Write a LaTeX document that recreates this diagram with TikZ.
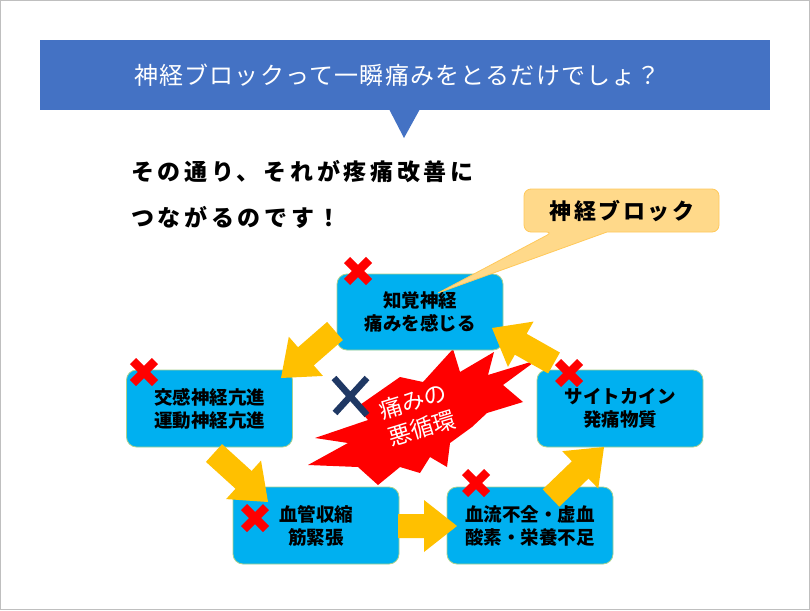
\documentclass[tikz,border=0pt]{standalone}
\usepackage{fontspec}
\setmainfont{Noto Sans CJK JP}
\usetikzlibrary{calc}
\definecolor{bannerblue}{HTML}{4472C4}
\definecolor{boxcyan}{HTML}{00B0F0}
\definecolor{boxedge}{HTML}{A9D18E}
\definecolor{arrowyel}{HTML}{FFC000}
\definecolor{crossred}{HTML}{FF0000}
\definecolor{crossnavy}{HTML}{1F3864}
\definecolor{calloutfill}{HTML}{FFD98A}
\definecolor{calloutedge}{HTML}{FFC95A}
\definecolor{frame}{HTML}{BFBFBF}
\newcommand\blockarrow[2]{%
  \coordinate (#1h) at ($(#2)!33pt!(#1)$);
  \fill[arrowyel] ($(#1)!12pt!90:(#2)$) -- ($(#1h)!12pt!90:(#2)$) -- ($(#1h)!26pt!90:(#2)$) -- (#2)
    -- ($(#1h)!26pt!-90:(#2)$) -- ($(#1h)!12pt!-90:(#2)$) -- ($(#1)!12pt!-90:(#2)$) -- cycle;}
\begin{document}
\begin{tikzpicture}[x=1pt,y=-1pt,
  cbox/.style={fill=boxcyan, draw=boxedge, line width=0.8pt, rounded corners=10pt,
    minimum width=166pt, minimum height=77pt, align=center, inner sep=0pt,
    font=\fontsize{18.5}{23}\selectfont\bfseries},
  maintext/.style={anchor=west, inner sep=0pt,
    font=\fontsize{23}{23}\selectfont\bfseries\addfontfeature{LetterSpace=16}},
  bursttext/.style={rotate=17, text=white, inner sep=0pt, font=\fontsize{23}{23}\selectfont},
  redcross/.pic={\draw[crossred, line width=8.5pt] (-11,-11) -- (11,11) (-11,11) -- (11,-11);}]
\useasboundingbox (0,0) rectangle (810,610);
\fill[white] (0,0) rectangle (810,610);
\draw[frame, line width=1pt] (0.5,0.5) rectangle (809.5,609.5);
% banner
\node[fill=bannerblue, minimum width=730pt, minimum height=70pt, inner sep=0pt] (banner) at (405,75) {};
\fill[bannerblue] (389,109) -- (420,109) -- (404,138) -- cycle;
\node[anchor=west, text=white, inner sep=0pt,
  font=\fontsize{24}{24}\selectfont\addfontfeature{LetterSpace=5}] (title) at (134,75)
  {神経ブロックって一瞬痛みをとるだけでしょ？};
% main text
\node[maintext] (line1) at (131,172) {その通り、それが疼痛改善に};
\node[maintext] (line2) at (131,217) {つながるのです！};
% burst
\fill[crossred] (453,349) -- (460,372) -- (494,352) -- (488,375) -- (537,360) -- (503,385)
  -- (523,402) -- (487,413) -- (472,427) -- (450,443) -- (447,467) -- (430,457) -- (420,473)
  -- (400,467) -- (378,485) -- (358,467) -- (308,465) -- (348,443) -- (315,438) -- (368,420)
  -- (357,407) -- (400,377) -- (423,382) -- cycle;
% boxes
\node[cbox, minimum height=76pt] (chikaku) at (420,312) {知覚神経\\痛みを感じる};
\node[cbox] (koukan) at (209.5,408.5) {交感神経亢進\\運動神経亢進};
\node[cbox] (cyto) at (620,408.5) {サイトカイン\\発痛物質};
\node[cbox] (kekkan) at (316,525.5) {血管収縮\\筋緊張};
\node[cbox] (ketsuryu) at (530,525.5) {血流不全・虚血\\酸素・栄養不足};
% arrows
\coordinate (a1s) at (335,331); \coordinate (a1e) at (281,378);
\coordinate (a2s) at (214,453); \coordinate (a2e) at (268,502);
\coordinate (a3s) at (398,526); \coordinate (a3e) at (457,526);
\coordinate (a4s) at (551,498); \coordinate (a4e) at (604,447);
\coordinate (a5s) at (554,363); \coordinate (a5e) at (492,328);
\blockarrow{a1s}{a1e}
\blockarrow{a2s}{a2e}
\blockarrow{a3s}{a3e}
\blockarrow{a4s}{a4e}
\blockarrow{a5s}{a5e}
% burst label
\node[bursttext] (burst1) at (413,401) {痛みの};
\node[bursttext] (burst2) at (422,428) {悪循環};
% crosses
\pic at (358,271) {redcross};
\pic at (144,372) {redcross};
\pic at (569,373) {redcross};
\pic at (255,518) {redcross};
\pic at (476,483) {redcross};
\draw[crossnavy, line width=6.5pt] (334,378) -- (367,415) (367,378) -- (335,413);
% callout
\filldraw[fill=calloutfill, draw=calloutedge, line width=0.8pt]
  (553,232) -- (438,293) -- (607,232) [rounded corners=7pt] -- (719,232) -- (719,189) -- (524,189) -- (524,232) -- cycle;
\node[inner sep=0pt, font=\fontsize{22}{22}\selectfont\bfseries\addfontfeature{LetterSpace=12}] (nblock) at (622,211) {神経ブロック};
\end{tikzpicture}
\end{document}
